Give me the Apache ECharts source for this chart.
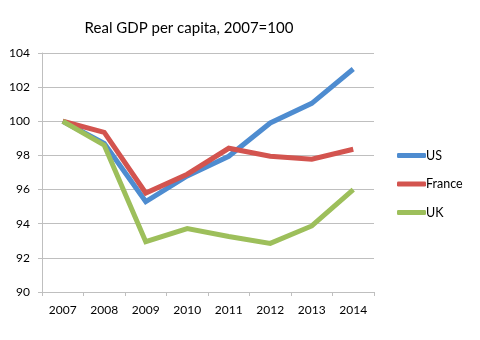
<!DOCTYPE html>
<html><head><meta charset="utf-8">
<script src="https://cdn.jsdelivr.net/npm/echarts@6/dist/echarts.min.js"></script>
<style>html,body{margin:0;padding:0;background:#fff}#c{width:480px;height:340px}</style>
</head><body><div id="c"></div>
<script>
const years = ['2007','2008','2009','2010','2011','2012','2013','2014'];
const us = [100, 98.7, 95.3, 96.8, 97.95, 99.9, 101.05, 103.06];
const france = [100, 99.35, 95.8, 96.9, 98.42, 97.95, 97.78, 98.36];
const uk = [100, 98.6, 92.95, 93.72, 93.25, 92.85, 93.87, 96.0];
const yTicks = {min: 90, max: 104, step: 2};

const font = 'Lato, "Open Sans", sans-serif';
const chart = echarts.init(document.getElementById('c'), null, {renderer: 'canvas'});
const mk = (name, data, color) => ({
  name, type: 'line', data, symbol: 'none', smooth: false,
  lineStyle: {width: 5, color, join: 'miter'}, itemStyle: {color}
});
chart.setOption({
  animation: false,
  title: {text: 'Real GDP per capita, 2007=100', left: 184, top: 16, textAlign: 'center',
    textStyle: {fontFamily: font, fontSize: 15, fontWeight: 'normal', color: '#000'}},
  grid: {left: 42, right: 106, top: 53, bottom: 48},
  legend: {orient: 'vertical', left: 392, top: 144, itemGap: 15.5, itemWidth: 29, itemHeight: 5,
    icon: 'roundRect',
    textStyle: {fontFamily: font, fontSize: 12.5, color: '#000', padding: [0, 0, 0, -5]},
    data: ['US', 'France', 'UK']},
  xAxis: {type: 'category', data: years, boundaryGap: true,
    axisLine: {lineStyle: {color: '#bfbfbf'}},
    axisTick: {show: true, length: 4, lineStyle: {color: '#bfbfbf'}},
    axisLabel: {fontFamily: font, fontSize: 12, color: '#000', margin: 12}},
  yAxis: {type: 'value', min: yTicks.min, max: yTicks.max, interval: yTicks.step,
    axisLine: {show: true, lineStyle: {color: '#bfbfbf'}},
    axisTick: {show: true, length: 4, lineStyle: {color: '#bfbfbf'}},
    splitLine: {lineStyle: {color: '#bfbfbf'}},
    axisLabel: {fontFamily: font, fontSize: 12, color: '#000', margin: 12}},
  series: [mk('US', us, '#4e8cd0'), mk('France', france, '#d3544f'), mk('UK', uk, '#9dbf5b')]
});
</script></body></html>
